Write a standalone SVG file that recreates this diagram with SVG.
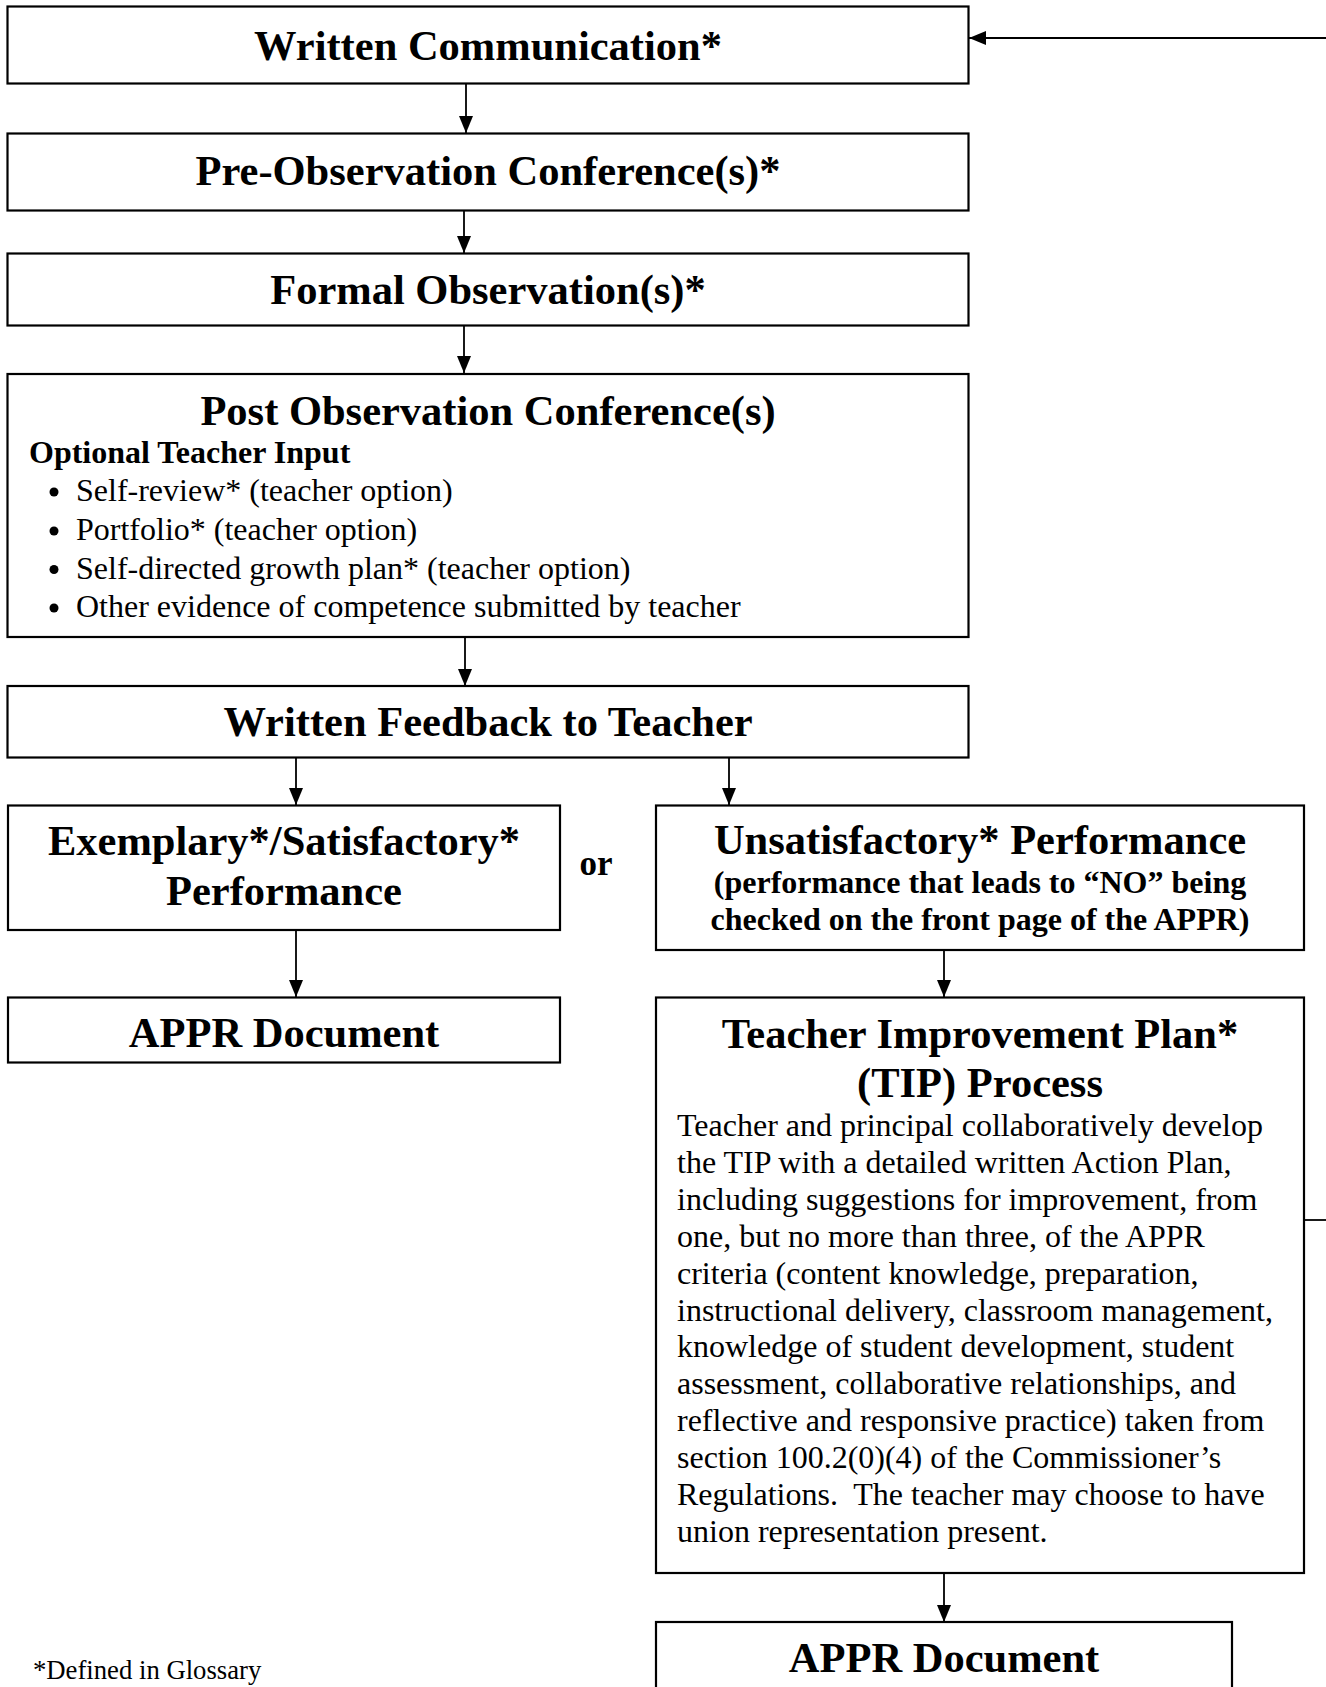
<svg xmlns="http://www.w3.org/2000/svg" width="1326" height="1687" viewBox="0 0 1326 1687">
<defs>
<marker id="ah" markerUnits="userSpaceOnUse" markerWidth="18" markerHeight="14" refX="17" refY="7" orient="auto">
<path d="M0,0 L17,7 L0,14 Z" fill="#000"/>
</marker>
<style>
.box{fill:#fff;stroke:#000;stroke-width:2.2}
.ln{fill:none;stroke:#000;stroke-width:1.8}
.t{font-family:"Liberation Serif","Times New Roman",serif;fill:#000}
.h{font-weight:bold;font-size:42.5px;text-anchor:middle}
.b32{font-weight:bold;font-size:32px}
.r32{font-size:32px}
.dot{fill:#000}
</style>
</defs>
<rect width="1326" height="1687" fill="#fff"/>
<g id="connectors">
<line class="ln" x1="466" y1="84" x2="466" y2="133" marker-end="url(#ah)"/>
<line class="ln" x1="464" y1="211" x2="464" y2="253" marker-end="url(#ah)"/>
<line class="ln" x1="464" y1="326" x2="464" y2="373" marker-end="url(#ah)"/>
<line class="ln" x1="465" y1="637" x2="465" y2="686" marker-end="url(#ah)"/>
<line class="ln" x1="296" y1="758" x2="296" y2="805" marker-end="url(#ah)"/>
<line class="ln" x1="729" y1="758" x2="729" y2="805" marker-end="url(#ah)"/>
<line class="ln" x1="296" y1="930" x2="296" y2="997" marker-end="url(#ah)"/>
<line class="ln" x1="944" y1="950" x2="944" y2="997" marker-end="url(#ah)"/>
<line class="ln" x1="944" y1="1573" x2="944" y2="1622" marker-end="url(#ah)"/>
<line class="ln" x1="1304" y1="1220" x2="1326" y2="1220"/>
<line class="ln" x1="1326" y1="38" x2="969" y2="38" marker-end="url(#ah)"/>
</g>
<g id="written-communication">
<rect class="box" x="7.5" y="6.5" width="961" height="77"/>
<text class="t h" x="488" y="60">Written Communication*</text>
</g>
<g id="pre-observation">
<rect class="box" x="7.5" y="133.5" width="961" height="77"/>
<text class="t h" x="488" y="185">Pre-Observation Conference(s)*</text>
</g>
<g id="formal-observation">
<rect class="box" x="7.5" y="253.5" width="961" height="72"/>
<text class="t h" x="488" y="304">Formal Observation(s)*</text>
</g>
<g id="post-observation">
<rect class="box" x="7.5" y="374" width="961" height="263"/>
<text class="t h" x="488" y="425">Post Observation Conference(s)</text>
<text class="t b32" x="29" y="463">Optional Teacher Input</text>
<circle class="dot" cx="54" cy="492" r="4.5"/>
<text class="t r32" x="76" y="501">Self-review* (teacher option)</text>
<circle class="dot" cx="54" cy="531" r="4.5"/>
<text class="t r32" x="76" y="540">Portfolio* (teacher option)</text>
<circle class="dot" cx="54" cy="569.5" r="4.5"/>
<text class="t r32" x="76" y="578.5">Self-directed growth plan* (teacher option)</text>
<circle class="dot" cx="54" cy="608" r="4.5"/>
<text class="t r32" x="76" y="617">Other evidence of competence submitted by teacher</text>
</g>
<g id="written-feedback">
<rect class="box" x="7.5" y="686" width="961" height="71.5"/>
<text class="t h" x="488" y="736">Written Feedback to Teacher</text>
</g>
<g id="exemplary">
<rect class="box" x="8" y="805.5" width="552" height="124.5"/>
<text class="t h" x="284" y="855">Exemplary*/Satisfactory*</text>
<text class="t h" x="284" y="905">Performance</text>
</g>
<g id="or-label">
<text class="t" x="596" y="875" font-size="35" font-weight="bold" text-anchor="middle">or</text>
</g>
<g id="unsatisfactory">
<rect class="box" x="656" y="805.5" width="648" height="144.5"/>
<text class="t h" x="980" y="854">Unsatisfactory* Performance</text>
<text class="t b32" x="980" y="893" text-anchor="middle">(performance that leads to “NO” being</text>
<text class="t b32" x="980" y="930" text-anchor="middle">checked on the front page of the APPR)</text>
</g>
<g id="appr-document-left">
<rect class="box" x="8" y="997.5" width="552" height="65"/>
<text class="t h" x="284" y="1047">APPR Document</text>
</g>
<g id="tip-process">
<rect class="box" x="656" y="997.5" width="648" height="575.5"/>
<text class="t h" x="980" y="1048">Teacher Improvement Plan*</text>
<text class="t h" x="980" y="1097">(TIP) Process</text>
<text class="t r32" x="677" y="1136">Teacher and principal collaboratively develop</text>
<text class="t r32" x="677" y="1172.9">the TIP with a detailed written Action Plan,</text>
<text class="t r32" x="677" y="1209.8">including suggestions for improvement, from</text>
<text class="t r32" x="677" y="1246.7">one, but no more than three, of the APPR</text>
<text class="t r32" x="677" y="1283.6">criteria (content knowledge, preparation,</text>
<text class="t r32" x="677" y="1320.5">instructional delivery, classroom management,</text>
<text class="t r32" x="677" y="1357.4">knowledge of student development, student</text>
<text class="t r32" x="677" y="1394.3">assessment, collaborative relationships, and</text>
<text class="t r32" x="677" y="1431.2">reflective and responsive practice) taken from</text>
<text class="t r32" x="677" y="1468.1">section 100.2(0)(4) of the Commissioner’s</text>
<text class="t r32" x="677" y="1505" xml:space="preserve">Regulations.  The teacher may choose to have</text>
<text class="t r32" x="677" y="1541.9">union representation present.</text>
</g>
<g id="appr-document-right">
<rect class="box" x="656" y="1622" width="576" height="90"/>
<text class="t h" x="944" y="1672">APPR Document</text>
</g>
<g id="footnote">
<text class="t" x="33" y="1679" font-size="26.7">*Defined in Glossary</text>
</g>
</svg>
